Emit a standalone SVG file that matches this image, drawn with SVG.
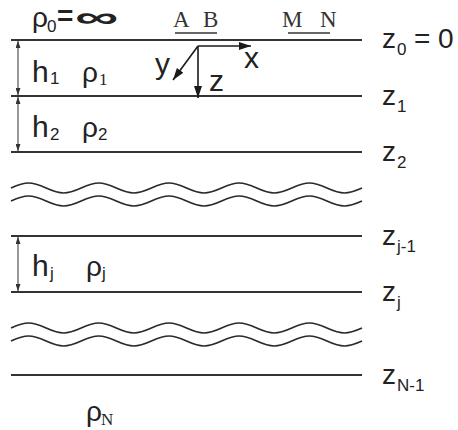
<svg xmlns="http://www.w3.org/2000/svg" width="458" height="430" viewBox="0 0 458 430">
<style>
.ln{stroke:#333;stroke-width:1.8;fill:none}
.wv{stroke:#2a2a2a;stroke-width:1.7;fill:none}
.ax{stroke:#1a1a1a;stroke-width:1.6;fill:none}
.dim{stroke:#333;stroke-width:1;fill:none}
.ul{stroke:#333;stroke-width:1.5;fill:none}
text{fill:#222}
.t{font-family:"Liberation Sans",Arial,sans-serif;font-size:28px}
.h{font-family:"Liberation Sans",Arial,sans-serif;font-size:30px}
.s{font-family:"Liberation Sans",Arial,sans-serif;font-size:17px}
.inf{font-family:"Liberation Sans",Arial,sans-serif;font-size:29px;font-weight:bold}
.r{font-family:"Liberation Serif","Times New Roman",serif;font-size:23px;fill:#333}
.rs{font-family:"Liberation Serif","Times New Roman",serif;font-size:17px}
</style>
<defs>
<marker id="axh" viewBox="0 0 12 8" refX="12" refY="4" markerWidth="12" markerHeight="8" orient="auto" markerUnits="userSpaceOnUse">
<path d="M0,0 L12,4 L0,8 z" fill="#1a1a1a"/>
</marker>
<marker id="dh" viewBox="0 0 7 5" refX="7" refY="2.5" markerWidth="7" markerHeight="5" orient="auto-start-reverse" markerUnits="userSpaceOnUse">
<path d="M0,0 L7,2.5 L0,5 z" fill="#333"/>
</marker>
<path id="wave" d="M11,0 c14.9,-6.67 20.2,-6.67 35.1,0 s20.2,6.67 35.1,0 s20.2,-6.67 35.1,0 s20.2,6.67 35.1,0 s20.2,-6.67 35.1,0 s20.2,6.67 35.1,0 s20.2,-6.67 35.1,0 s20.2,6.67 35.1,0 s20.2,-6.67 35.1,0 s20.2,6.67 35.1,0"/>
</defs>

<g id="layers">
<line class="ln" x1="11" y1="40" x2="362" y2="40"/>
<line class="ln" x1="11" y1="96" x2="362" y2="96"/>
<line class="ln" x1="11" y1="152" x2="362" y2="152"/>
<line class="ln" x1="11" y1="236" x2="362" y2="236"/>
<line class="ln" x1="11" y1="292" x2="362" y2="292"/>
<line class="ln" x1="11" y1="375" x2="362" y2="375"/>
</g>

<g id="waves">
<use href="#wave" class="wv" y="188"/>
<use href="#wave" class="wv" y="201"/>
<use href="#wave" class="wv" y="328"/>
<use href="#wave" class="wv" y="341"/>
</g>

<g id="connectors">
<line class="ax" x1="198" y1="46" x2="251" y2="46" marker-end="url(#axh)"/>
<line class="ax" x1="198" y1="46" x2="198" y2="98" marker-end="url(#axh)"/>
<line class="ax" x1="198" y1="46" x2="173" y2="80" marker-end="url(#axh)"/>
<line class="dim" x1="18" y1="41" x2="18" y2="95" marker-start="url(#dh)" marker-end="url(#dh)"/>
<line class="dim" x1="18" y1="97" x2="18" y2="151" marker-start="url(#dh)" marker-end="url(#dh)"/>
<line class="dim" x1="18" y1="237" x2="18" y2="291" marker-start="url(#dh)" marker-end="url(#dh)"/>
</g>

<g id="axis-labels">
<text class="h" x="244" y="68">x</text>
<text class="h" x="155" y="74">y</text>
<text class="h" x="209" y="91">z</text>
</g>

<g id="electrodes">
<text class="r" x="173" y="27">A</text>
<text class="r" x="203" y="27">B</text>
<line class="ul" x1="175" y1="33" x2="217" y2="33"/>
<text class="r" x="282" y="27">M</text>
<text class="r" x="320" y="27">N</text>
<line class="ul" x1="288" y1="33" x2="330" y2="33"/>
</g>

<g id="air">
<text class="t" x="32" y="27">ρ</text>
<text class="s" x="47" y="32">0</text>
<text class="t" x="57" y="25" font-weight="bold">=</text>
<text class="inf" transform="translate(75,26.5) scale(2.1,1)">∞</text>
</g>

<g id="layer1">
<text class="h" x="32" y="82">h</text><text class="s" x="50" y="84">1</text>
<text class="t" x="82" y="82">ρ</text><text class="rs" x="99" y="85">1</text>
</g>
<g id="layer2">
<text class="h" x="32" y="137">h</text><text class="s" x="50" y="140">2</text>
<text class="t" x="82" y="137">ρ</text><text class="s" x="98" y="140">2</text>
</g>
<g id="layerj">
<text class="h" x="32" y="276">h</text><text class="s" x="50" y="279">j</text>
<text class="t" x="86" y="276">ρ</text><text class="s" x="102" y="279">j</text>
</g>
<g id="layerN">
<text class="t" x="86" y="421">ρ</text><text class="rs" x="101" y="425">N</text>
</g>

<g id="depths">
<text class="t" x="382" y="48">z</text><text class="s" x="397" y="55">0</text><text class="t"><tspan x="414" y="48">=</tspan><tspan x="438" y="48">0</tspan></text>
<text class="t" x="382" y="105">z</text><text class="s" x="397" y="112">1</text>
<text class="t" x="382" y="161">z</text><text class="s" x="397" y="168">2</text>
<text class="t" x="382" y="245">z</text><text class="s" x="397" y="252">j-1</text>
<text class="t" x="382" y="301">z</text><text class="s" x="397" y="308">j</text>
<text class="t" x="382" y="384">z</text><text class="s" x="397" y="391">N-1</text>
</g>
</svg>
